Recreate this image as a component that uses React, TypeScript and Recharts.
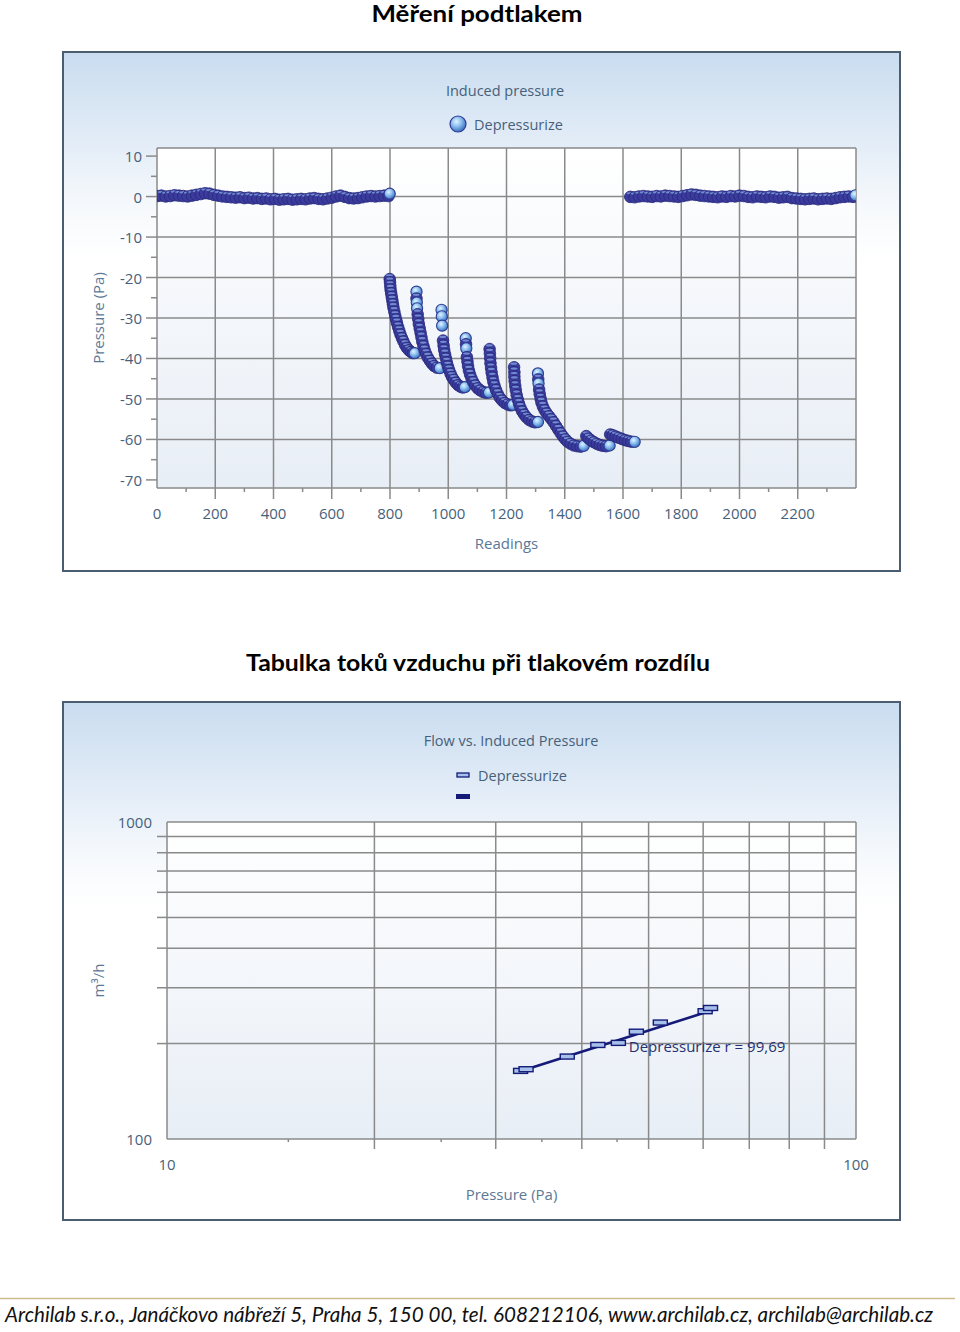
import React from 'react';
import { ScatterChart, Scatter, XAxis, YAxis, CartesianGrid, ReferenceDot } from 'recharts';

const FONT = "'Open Sans', 'Noto Sans', sans-serif";
const INK = '#475f7a';
const GRID = '#8a8a8a';

// --- Měření podtlakem: reading number vs. induced pressure (Pa) ---
const baselineStart: [number, number][] = [
  [0, 0.3], [15, 0.4], [30, 0.2], [45, 0.3], [60, 0.5], [75, 0.4], [90, 0.3], [105, 0.2], [120, 0.4],
  [135, 0.6], [150, 0.8], [165, 1.0], [180, 0.9], [195, 0.6], [210, 0.4], [225, 0.2], [240, 0.1],
  [255, 0.0], [270, -0.1], [285, 0.0], [300, -0.2], [315, -0.1], [330, -0.3], [345, -0.2], [360, -0.4],
  [375, -0.3], [390, -0.5], [405, -0.4], [420, -0.6], [435, -0.5], [450, -0.4], [465, -0.6], [480, -0.5],
  [495, -0.4], [510, -0.5], [525, -0.3], [540, -0.2], [555, -0.4], [570, -0.5], [585, -0.3], [600, -0.1],
  [615, 0.2], [630, 0.4], [645, 0.1], [660, -0.2], [675, -0.3], [690, -0.2], [705, 0.0], [720, 0.2],
  [735, 0.3], [750, 0.2], [765, 0.3], [780, 0.4], [795, 0.3], [799, 0.7],
];
const stepOne: [number, number][] = [
  [799, -20.2], [800, -21.0], [801, -21.9], [802, -22.8], [804, -23.7], [806, -24.6], [808, -25.5],
  [810, -26.4], [812, -27.3], [815, -28.3], [818, -29.3], [821, -30.2], [824, -31.1], [828, -32.1],
  [832, -33.0], [836, -33.9], [841, -34.8], [846, -35.6], [852, -36.5], [858, -37.2], [865, -37.8],
  [872, -38.2], [879, -38.5], [885, -38.7],
];
const stepTwo: [number, number][] = [
  [891, -23.5], [891, -25.0], [892, -26.2], [893, -27.6], [895, -28.9], [897, -30.1], [899, -31.3],
  [902, -32.4], [905, -33.5], [908, -34.6], [911, -35.7], [915, -36.8], [919, -37.8], [924, -38.7],
  [930, -39.6], [937, -40.4], [944, -41.1], [952, -41.7], [961, -42.1], [971, -42.4],
];
const stepThree: [number, number][] = [
  [977, -28.0], [978, -29.6], [979, -31.9], [982, -35.4], [984, -36.6], [986, -37.7], [989, -38.8],
  [992, -39.8], [995, -40.8], [999, -41.8], [1003, -42.7], [1008, -43.6], [1013, -44.4], [1019, -45.1],
  [1026, -45.8], [1034, -46.4], [1042, -46.8], [1050, -47.0], [1057, -47.1],
];
const stepFour: [number, number][] = [
  [1060, -35.0], [1061, -36.3], [1062, -37.5], [1064, -39.5], [1066, -40.6], [1068, -41.7], [1071, -42.8],
  [1075, -43.8], [1080, -44.8], [1086, -45.7], [1093, -46.5], [1101, -47.2], [1110, -47.7], [1120, -48.1],
  [1130, -48.3], [1140, -48.4],
];
const stepFive: [number, number][] = [
  [1142, -37.5], [1143, -38.6], [1144, -39.8], [1145, -41.0], [1147, -42.2], [1149, -43.3], [1152, -44.5],
  [1155, -45.6], [1159, -46.6], [1164, -47.6], [1170, -48.6], [1177, -49.5], [1185, -50.2], [1194, -50.8],
  [1204, -51.2], [1214, -51.4], [1222, -51.5],
];
const stepSix: [number, number][] = [
  [1226, -42.0], [1227, -43.2], [1227, -44.3], [1228, -45.4], [1230, -46.6], [1232, -47.7], [1235, -48.9],
  [1239, -50.0], [1243, -51.0], [1248, -52.0], [1254, -52.9], [1261, -53.7], [1269, -54.4], [1278, -55.0],
  [1288, -55.4], [1298, -55.6], [1308, -55.7],
];
const stepSeven: [number, number][] = [
  [1308, -43.7], [1309, -45.0], [1310, -46.2], [1312, -47.5], [1314, -48.6], [1317, -49.7], [1320, -50.7],
  [1325, -51.7], [1331, -52.6], [1338, -53.4], [1346, -54.1], [1354, -54.8], [1362, -55.6], [1370, -56.5],
  [1378, -57.4], [1386, -58.3], [1394, -59.1], [1402, -59.8], [1410, -60.4], [1420, -60.9], [1431, -61.3],
  [1443, -61.5], [1455, -61.6], [1465, -61.6],
];
const stepEight: [number, number][] = [
  [1474, -59.0], [1482, -59.6], [1491, -60.1], [1500, -60.5], [1510, -60.9], [1520, -61.2], [1531, -61.4],
  [1542, -61.5], [1554, -61.5],
];
const stepNine: [number, number][] = [
  [1556, -58.6], [1565, -58.8], [1575, -59.1], [1585, -59.4], [1596, -59.7], [1607, -60.0], [1618, -60.2],
  [1629, -60.4], [1640, -60.6],
];
const baselineEnd: [number, number][] = [
  [1625, 0.1], [1640, 0.0], [1655, 0.2], [1670, 0.3], [1685, 0.2], [1700, 0.1], [1715, 0.3], [1730, 0.2],
  [1745, 0.4], [1760, 0.3], [1775, 0.2], [1790, 0.1], [1805, 0.3], [1820, 0.5], [1835, 0.7], [1850, 0.6],
  [1865, 0.4], [1880, 0.3], [1895, 0.2], [1910, 0.1], [1925, 0.0], [1940, 0.2], [1955, 0.1], [1970, 0.3],
  [1985, 0.2], [2000, 0.4], [2015, 0.3], [2030, 0.1], [2045, 0.0], [2060, 0.2], [2075, 0.1], [2090, 0.0],
  [2105, 0.2], [2120, 0.1], [2135, -0.1], [2150, 0.0], [2165, 0.1], [2180, -0.2], [2195, -0.3], [2210, -0.4],
  [2225, -0.5], [2240, -0.4], [2255, -0.3], [2270, -0.5], [2285, -0.4], [2300, -0.3], [2315, -0.4],
  [2330, -0.2], [2345, 0.0], [2360, 0.1], [2375, 0.2], [2390, 0.1], [2398, 0.3],
];

const readingTicks = [0, 100, 200, 300, 400, 500, 600, 700, 800, 900, 1000, 1100, 1200, 1300, 1400, 1500,
  1600, 1700, 1800, 1900, 2000, 2100, 2200, 2300];
const readingGrid = [0, 200, 400, 600, 800, 1000, 1200, 1400, 1600, 1800, 2000, 2200, 2400];
const pressureTicks = [-70, -65, -60, -55, -50, -45, -40, -35, -30, -25, -20, -15, -10, -5, 0, 5, 10];
const pressureGrid = [-72, -60, -50, -40, -30, -20, -10, 0, 12];

// --- Tabulka toků: flow vs. induced pressure (log-log) ---
const testPressure = [32.6, 33.2, 38.1, 42.2, 45.2, 48.0, 52.0, 60.4, 61.5];
const testFlow = [164, 166, 182, 198, 201, 218, 233, 253, 259];
const fitLine = [{ p: 32.4, q: 163 }, { p: 62.3, q: 256 }];
const fitLabel = { p: 46.8, q: 197, text: 'Depressurize r = 99,69' };
const flowPressureTicks = [10, 15, 20, 25, 30, 35, 40, 45, 50, 60, 70, 80, 90, 100];
const flowPressureGrid = [10, 20, 30, 40, 50, 60, 70, 80, 90, 100];
const flowTicks = [100, 200, 300, 400, 500, 600, 700, 800, 900, 1000];

const pressureSeries = [
  ...baselineStart, ...stepOne, ...stepTwo, ...stepThree, ...stepFour, ...stepFive,
  ...stepSix, ...stepSeven, ...stepEight, ...stepNine, ...baselineEnd,
].map(([r, p]) => ({ r, p }));

const flowSeries = testPressure.map((p, i) => ({ p, q: testFlow[i] }));

// a bead stays fully visible when the next one is drawn far enough away
const PX_PER_READING = 699 / 2400;
const PX_PER_PA = 340 / 84;
const exposed = new Set<string>();
pressureSeries.forEach((d, i) => {
  const n = pressureSeries[i + 1];
  if (!n || Math.hypot((n.r - d.r) * PX_PER_READING, (n.p - d.p) * PX_PER_PA) > 5.2) {
    exposed.add(`${d.r}|${d.p}`);
  }
});

function Bead(props: any) {
  const { cx, cy, payload } = props;
  if (exposed.has(`${payload.r}|${payload.p}`)) {
    return <circle cx={cx} cy={cy} r={5.6} fill="url(#beadFill)" stroke="#2f3d94" strokeWidth={1.1} />;
  }
  return (
    <g>
      <circle cx={cx} cy={cy + 0.7} r={5.8} fill="#3a3b9c" stroke="#27287a" strokeWidth={0.8} />
      <ellipse cx={cx - 0.3} cy={cy - 2.9} rx={3.4} ry={1.1} fill="#8fb5ec" opacity={0.65} />
    </g>
  );
}

function DashMarker(props: any) {
  const { cx, cy } = props;
  return <rect x={cx - 7} y={cy - 2.5} width={14} height={5} fill="#a7c0ea" stroke="#141a78" strokeWidth={1.4} />;
}

const tickText = { fill: INK, fontSize: 15, fontFamily: FONT };

function ReadingTick({ x, y, payload }: any) {
  const v = payload.value;
  const major = v % 200 === 0;
  return (
    <g>
      {v > 0 && <line x1={x} x2={x} y1={y} y2={y + (major ? 11 : 4)} stroke={GRID} strokeWidth={1.5} />}
      {major && <text x={x} y={y + 25} textAnchor="middle" dominantBaseline="central" {...tickText}>{v}</text>}
    </g>
  );
}

function PressureTick({ x, y, payload }: any) {
  const v = payload.value;
  const major = v % 10 === 0;
  return (
    <g>
      <line x1={x - (major ? 11 : 6)} x2={x} y1={y} y2={y} stroke={GRID} strokeWidth={1.5} />
      {major && <text x={x - 15} y={y} textAnchor="end" dominantBaseline="central" {...tickText}>{v}</text>}
    </g>
  );
}

function FlowPressureTick({ x, y, payload }: any) {
  const v = payload.value;
  const edge = v === 10 || v === 100;
  const major = v % 10 === 0;
  return (
    <g>
      {!edge && <line x1={x} x2={x} y1={y} y2={y + (major ? 10 : 3)} stroke={GRID} strokeWidth={1.5} />}
      {edge && <text x={x} y={y + 25} textAnchor="middle" dominantBaseline="central" {...tickText}>{v}</text>}
    </g>
  );
}

function FlowTick({ x, y, payload }: any) {
  const v = payload.value;
  const edge = v === 100 || v === 1000;
  return (
    <g>
      {!edge && <line x1={x - 10} x2={x} y1={y} y2={y} stroke={GRID} strokeWidth={1.5} />}
      {edge && <text x={x - 15} y={y} textAnchor="end" dominantBaseline="central" {...tickText}>{v}</text>}
    </g>
  );
}

const axisTitle = { fill: '#5b7896', fontSize: 15, fontFamily: FONT };

function xTitle(text: string) {
  return {
    content: ({ viewBox }: any) => (
      <text x={viewBox.x + viewBox.width / 2} y={viewBox.y + 55} textAnchor="middle" dominantBaseline="central" {...axisTitle}>
        {text}
      </text>
    ),
  };
}

function yTitle(text: string) {
  return {
    content: ({ viewBox }: any) => {
      const x = viewBox.x + 36;
      const y = viewBox.y + viewBox.height / 2;
      return (
        <text x={x} y={y} transform={`rotate(-90 ${x} ${y})`} textAnchor="middle" dominantBaseline="central" {...axisTitle}>
          {text}
        </text>
      );
    },
  };
}

const frameStyle: React.CSSProperties = {
  position: 'absolute',
  left: 62,
  width: 839,
  background: 'linear-gradient(180deg, #c9dcef 0%, #e2ecf7 17%, #f6f9fc 30%, #ffffff 40%, #ffffff 100%)',
  boxShadow: 'inset 0 0 0 2px #4b5d70',
};

const overlayText: React.CSSProperties = {
  position: 'absolute',
  transform: 'translate(-50%, -50%)',
  whiteSpace: 'nowrap',
  color: INK,
  fontSize: 14.5,
  fontFamily: FONT,
};

function PressureChart() {
  return (
    <div style={{ ...frameStyle, top: 51, height: 521 }}>
      <div style={{ ...overlayText, left: 443, top: 39 }}>Induced pressure</div>
      <svg width={20} height={20} style={{ position: 'absolute', left: 386, top: 63 }}>
        <defs>
          <radialGradient id="legendBead" cx="40%" cy="35%" r="65%">
            <stop offset="0%" stopColor="#e2f2ff" />
            <stop offset="45%" stopColor="#8fc2f0" />
            <stop offset="100%" stopColor="#3a70c0" />
          </radialGradient>
        </defs>
        <circle cx={10} cy={10} r={8} fill="url(#legendBead)" stroke="#2f3d94" strokeWidth={1.2} />
      </svg>
      <div style={{ ...overlayText, transform: 'translate(0, -50%)', left: 412, top: 73 }}>Depressurize</div>
      <div style={{ position: 'absolute', left: 0, top: 0 }}>
        <ScatterChart width={839} height={521} margin={{ top: 97, right: 45, bottom: 54, left: 0 }}>
          <defs>
            <linearGradient id="plotFill1" x1="0" y1="0" x2="0" y2="1">
              <stop offset="0%" stopColor="#ffffff" />
              <stop offset="100%" stopColor="#e8eef6" />
            </linearGradient>
            <radialGradient id="beadFill" cx="40%" cy="35%" r="65%">
              <stop offset="0%" stopColor="#e2f2ff" />
              <stop offset="45%" stopColor="#8fc2f0" />
              <stop offset="100%" stopColor="#3a70c0" />
            </radialGradient>
          </defs>
          <CartesianGrid
            fill="url(#plotFill1)"
            stroke={GRID}
            strokeWidth={1.5}
            horizontalValues={pressureGrid}
            verticalValues={readingGrid}
          />
          <XAxis
            dataKey="r"
            type="number"
            domain={[0, 2400]}
            ticks={readingTicks}
            interval={0}
            tickSize={0}
            tickMargin={0}
            axisLine={false}
            tick={<ReadingTick />}
            height={30}
            allowDataOverflow
            label={xTitle('Readings')}
          />
          <YAxis
            dataKey="p"
            type="number"
            domain={[-72, 12]}
            ticks={pressureTicks}
            interval={0}
            tickSize={0}
            tickMargin={0}
            axisLine={false}
            tick={<PressureTick />}
            width={95}
            allowDataOverflow
            label={yTitle('Pressure (Pa)')}
          />
          <Scatter data={pressureSeries} shape={Bead} isAnimationActive={false} />
        </ScatterChart>
      </div>
    </div>
  );
}

function FlowChart() {
  return (
    <div style={{ ...frameStyle, top: 701, height: 520 }}>
      <div style={{ ...overlayText, left: 449, top: 39 }}>Flow vs. Induced Pressure</div>
      <svg width={20} height={34} style={{ position: 'absolute', left: 391, top: 64 }}>
        <rect x={4} y={8} width={12} height={4} fill="#a7c0ea" stroke="#141a78" strokeWidth={1.3} />
        <rect x={3} y={29} width={14} height={5} fill="#141a78" />
      </svg>
      <div style={{ ...overlayText, transform: 'translate(0, -50%)', left: 416, top: 74 }}>Depressurize</div>
      <div style={{ position: 'absolute', left: 0, top: 0 }}>
        <ScatterChart width={839} height={520} margin={{ top: 121, right: 45, bottom: 52, left: 0 }}>
          <defs>
            <linearGradient id="plotFill2" x1="0" y1="0" x2="0" y2="1">
              <stop offset="0%" stopColor="#ffffff" />
              <stop offset="100%" stopColor="#e8eef6" />
            </linearGradient>
          </defs>
          <CartesianGrid
            fill="url(#plotFill2)"
            stroke={GRID}
            strokeWidth={1.5}
            horizontalValues={flowTicks}
            verticalValues={flowPressureGrid}
          />
          <XAxis
            dataKey="p"
            type="number"
            scale="log"
            domain={[10, 100]}
            ticks={flowPressureTicks}
            interval={0}
            tickSize={0}
            tickMargin={0}
            axisLine={false}
            tick={<FlowPressureTick />}
            height={30}
            allowDataOverflow
            label={xTitle('Pressure (Pa)')}
          />
          <YAxis
            dataKey="q"
            type="number"
            scale="log"
            domain={[100, 1000]}
            ticks={flowTicks}
            interval={0}
            tickSize={0}
            tickMargin={0}
            axisLine={false}
            tick={<FlowTick />}
            width={105}
            allowDataOverflow
            label={yTitle('m³/h')}
          />
          <Scatter data={fitLine} line={{ stroke: '#161b7a', strokeWidth: 2.6 }} shape={() => <g />} isAnimationActive={false} />
          <Scatter data={flowSeries} shape={DashMarker} isAnimationActive={false} />
          <ReferenceDot
            x={fitLabel.p}
            y={fitLabel.q}
            r={0}
            shape={(props: any) => (
              <text x={props.cx} y={props.cy} dominantBaseline="central" fill="#263070" fontSize={15} fontFamily={FONT}>
                {fitLabel.text}
              </text>
            )}
          />
        </ScatterChart>
      </div>
    </div>
  );
}

export default function App() {
  return (
    <div style={{ position: 'absolute', left: 0, top: 0, width: 960, height: 1332, background: '#ffffff', overflow: 'hidden' }}>
      <svg width={960} height={1332} style={{ position: 'absolute', left: 0, top: 0 }}>
        <text x={477} y={22} textAnchor="middle" fontFamily="Lato, 'Open Sans', sans-serif" fontWeight={700} fontSize={22}
          textLength={211} lengthAdjust="spacingAndGlyphs" fill="#000">
          Měření podtlakem
        </text>
        <text x={478} y={671} textAnchor="middle" fontFamily="Lato, 'Open Sans', sans-serif" fontWeight={700} fontSize={22}
          textLength={464} lengthAdjust="spacingAndGlyphs" fill="#000">
          Tabulka toků vzduchu při tlakovém rozdílu
        </text>
        <line x1={0} x2={955} y1={1298.5} y2={1298.5} stroke="#cdbb8e" strokeWidth={1.5} />
        <text x={5} y={1322} fontFamily="Lato, 'Open Sans', sans-serif" fontStyle="italic" fontSize={21}
          textLength={928} lengthAdjust="spacingAndGlyphs" fill="#111">
          Archilab s.r.o., Janáčkovo nábřeží 5, Praha 5, 150 00, tel. 608212106, www.archilab.cz, archilab@archilab.cz
        </text>
      </svg>
      <PressureChart />
      <FlowChart />
    </div>
  );
}
